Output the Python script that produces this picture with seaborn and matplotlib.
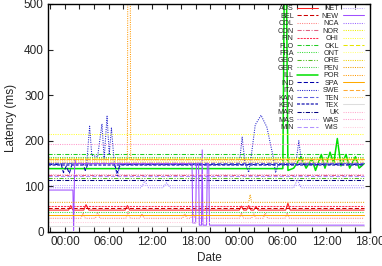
import pandas as pd
import matplotlib
matplotlib.use("Agg")
import matplotlib.pyplot as plt
import matplotlib.dates as mdates
import seaborn as sns

# (hour since 00:00 of day 1, latency in ms)
AUS = [(-2.3, 48), (0.5, 48), (0.8, 58), (1.1, 48), (2.6, 48), (2.9, 60), (3.3, 48),
       (8.3, 48), (8.6, 58), (8.9, 48), (24.0, 48), (24.3, 57), (24.6, 48), (25.0, 48),
       (25.3, 58), (25.6, 48), (26.0, 48), (26.3, 56), (26.6, 48), (30.4, 48), (30.7, 63),
       (31.0, 48), (41.2, 48)]
BEL = [(-2.3, 53), (41.2, 53)]
COL = [(-2.3, 30), (2.2, 30), (2.5, 42), (2.8, 30), (4.2, 30), (4.5, 44), (4.8, 30),
       (8.4, 30), (8.7, 45), (9.0, 30), (10.3, 30), (10.6, 40), (10.9, 30), (16.2, 30),
       (16.5, 40), (16.8, 30), (17.3, 30), (17.6, 42), (17.9, 30), (24.0, 30), (24.3, 42),
       (24.6, 30), (25.7, 30), (26.0, 40), (26.3, 30), (27.3, 30), (27.6, 42), (27.9, 30),
       (30.3, 30), (30.6, 42), (30.9, 30), (41.2, 30)]
CON = [(-2.3, 126), (41.2, 126)]
FIN = [(-2.3, 56), (41.2, 56)]
FLO = [(-2.3, 172), (41.2, 172)]
FRA = [(-2.3, 44), (41.2, 44)]
GEO = [(-2.3, 118), (41.2, 118)]
GER = [(-2.3, 165), (41.2, 165)]
ILL = [(-2.3, 139), (30.0, 139), (30.2, 540), (30.5, 540), (30.7, 135), (31.5, 140),
       (32.5, 165), (33.2, 140), (34.0, 160), (34.5, 135), (35.3, 170), (35.8, 140),
       (36.5, 175), (37.0, 150), (37.5, 205), (38.0, 145), (38.7, 170), (39.2, 140),
       (40.0, 165), (40.5, 140), (41.2, 150)]
IND = [(-2.3, 148), (-0.5, 148), (-0.2, 130), (0.2, 145), (0.6, 128), (1.0, 150),
       (2.5, 150), (2.8, 135), (3.2, 150), (6.8, 150), (7.2, 130), (7.6, 148), (41.2, 148)]
ITA = [(-2.3, 150), (3.0, 150), (3.4, 232), (3.7, 168), (4.5, 165), (5.1, 237),
       (5.4, 160), (5.8, 254), (6.1, 170), (6.4, 228), (6.8, 150), (7.2, 122), (7.6, 148),
       (24.0, 148), (24.4, 208), (24.8, 150), (25.3, 131), (25.6, 160), (26.2, 235),
       (27.0, 256), (27.8, 230), (28.6, 170), (29.0, 130), (29.4, 150), (31.8, 150),
       (32.2, 200), (32.6, 150), (41.2, 150)]
KAN = [(-2.3, 152), (41.2, 152)]
KEN = [(-2.3, 147), (41.2, 147)]
MAR = [(-2.3, 115), (41.2, 115)]
MAS = [(-2.3, 97), (10.5, 97), (11.0, 112), (11.5, 97), (13.5, 97), (14.0, 108),
       (14.5, 97), (31.5, 97), (32.0, 115), (32.5, 97), (41.2, 97)]
MIN = [(-2.3, 122), (41.2, 122)]
NET = [(-2.3, 103), (41.2, 103)]
NEW = [(-2.3, 92), (1.1, 92), (1.2, 3), (1.35, 160), (1.5, 150), (17.5, 150),
       (17.6, 20), (18.0, 20), (18.1, 150), (18.4, 150), (18.5, 15), (18.8, 15),
       (18.9, 180), (19.0, 15), (19.5, 15), (19.6, 150), (19.8, 150), (19.9, 15), (41.2, 15)]
NCA = [(-2.3, 154), (41.2, 154)]
NOR = [(-2.3, 163), (41.2, 163)]
OHI = [(-2.3, 214), (41.2, 214)]
OKL = [(-2.3, 160), (41.2, 160)]
ONT = [(-2.3, 156), (41.2, 156)]
ORE = [(-2.3, 159), (41.2, 159)]
PEN = [(-2.3, 65), (25.3, 65), (25.5, 82), (25.7, 65), (41.2, 65)]
POR = [(-2.3, 158), (8.6, 158), (8.65, 540), (9.0, 540), (9.05, 158), (41.2, 158)]
SPA = [(-2.3, 37), (41.2, 37)]
SWE = [(-2.3, 161), (41.2, 161)]
TEN = [(-2.3, 153), (41.2, 153)]
TEX = [(-2.3, 13), (41.2, 13)]
UK = [(-2.3, 127), (41.2, 127)]
WAS = [(-2.3, 193), (41.2, 193)]
WIS = [(-2.3, 21), (41.2, 21)]

names = ["AUS", "BEL", "COL", "CON", "FIN", "FLO", "FRA", "GEO", "GER", "ILL", "IND",
         "ITA", "KAN", "KEN", "MAR", "MAS", "MIN", "NET", "NEW", "NCA", "NOR", "OHI",
         "OKL", "ONT", "ORE", "PEN", "POR", "SPA", "SWE", "TEN", "TEX", "UK", "WAS", "WIS"]
series = [AUS, BEL, COL, CON, FIN, FLO, FRA, GEO, GER, ILL, IND, ITA, KAN, KEN, MAR,
          MAS, MIN, NET, NEW, NCA, NOR, OHI, OKL, ONT, ORE, PEN, POR, SPA, SWE, TEN,
          TEX, UK, WAS, WIS]

SOLID = "-"
DOT = (0, (1, 1.2))
DASH = (0, (4, 2))
DDASH = (0, (2, 1))
DASHDOT = (0, (4, 1.5, 1, 1.5))
DASHDOTDOT = (0, (4, 1.5, 1, 1.5, 1, 1.5))

styles = {
    "AUS": ("#ff2020", SOLID), "BEL": ("#cc0000", DASH), "COL": ("#ff8080", DOT),
    "CON": ("#e06080", DASHDOT), "FIN": ("#ff3050", DDASH), "FLO": ("#22cc22", DASHDOT),
    "FRA": ("#33dd33", DOT), "GEO": ("#55bb22", DASHDOTDOT), "GER": ("#44cc44", DOT),
    "ILL": ("#00e000", SOLID), "IND": ("#0000aa", DASH), "ITA": ("#2222cc", DOT),
    "KAN": ("#6060e0", DASH), "KEN": ("#4040c0", DDASH), "MAR": ("#000080", DASHDOT),
    "MAS": ("#a080ff", DOT), "MIN": ("#b090ff", DASH), "NET": ("#c0a8ff", DOT),
    "NEW": ("#a050ff", SOLID), "NCA": ("#9966ff", DOT), "NOR": ("#eeee00", DOT),
    "OHI": ("#ffff33", DOT), "OKL": ("#e6e600", DASH), "ONT": ("#ffff80", DOT),
    "ORE": ("#f0d000", DOT), "PEN": ("#f0a000", DOT), "POR": ("#ff9900", DOT),
    "SPA": ("#ffaa00", SOLID), "SWE": ("#ffaa33", DASH), "TEN": ("#ffcc66", DOT),
    "TEX": ("#dddddd", SOLID), "UK": ("#ffaacc", DOT), "WAS": ("#ff99cc", DOT),
    "WIS": ("#ffccdd", DOT),
}

base = pd.Timestamp("2014-03-01 00:00")

sns.set_style("ticks")
plt.rcParams["font.family"] = ["Liberation Sans", "DejaVu Sans"]

fig = plt.figure(figsize=(3.82, 2.66), dpi=100)
ax = fig.add_axes([48 / 382, 1 - 232 / 266, (370 - 48) / 382, (232 - 4) / 266])

for name, pts in zip(names, series):
    df = pd.DataFrame(pts, columns=["hour", "ms"])
    df["time"] = base + pd.to_timedelta(df["hour"], unit="h")
    color, ls = styles[name]
    lw = 1.1 if name in ("KEN", "ILL") else 0.75
    sns.lineplot(data=df, x="time", y="ms", ax=ax, color=color, linestyle=ls,
                 linewidth=lw, label=name, estimator=None)

ax.set_xlim(base - pd.Timedelta(hours=2.33), base + pd.Timedelta(hours=42))
ax.set_ylim(0, 500)
ax.set_yticks(range(0, 501, 100))
ax.xaxis.set_major_locator(mdates.HourLocator(byhour=[0, 6, 12, 18]))
ax.xaxis.set_major_formatter(mdates.DateFormatter("%H:%M"))
ax.xaxis.set_minor_locator(mdates.HourLocator(byhour=range(0, 24, 2)))
ax.tick_params(which="both", direction="in", top=True, right=True, length=3.5,
               width=0.8, labelsize=8.5, pad=3)
for sp in ax.spines.values():
    sp.set_linewidth(1.0)
    sp.set_color("black")

ax.set_xlabel("Date", fontsize=8.5, labelpad=3)
ax.set_ylabel("Latency (ms)", fontsize=8.5, labelpad=5)

ax.legend(ncol=2, loc="upper right", bbox_to_anchor=(1.0 - 5 / 322, 1.0), frameon=False,
          fontsize=5.2, markerfirst=False, handlelength=2.9, handletextpad=0.5,
          columnspacing=0.5, labelspacing=0.05, borderaxespad=0.2, borderpad=0.0)

fig.savefig("out.png", dpi=100)
